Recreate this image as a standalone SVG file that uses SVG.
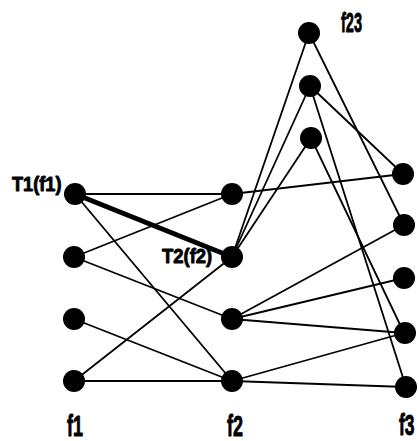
<svg xmlns="http://www.w3.org/2000/svg" width="419" height="441" viewBox="0 0 419 441">
  <style>
    .edge { stroke: #000; stroke-width: 1.8; fill: none; stroke-linecap: round; }
    .bold { stroke: #000; stroke-width: 5; fill: none; stroke-linecap: round; }
    .node { fill: #000; }
    .lbl { font-family: "Liberation Sans", Arial, sans-serif; font-weight: bold; fill: #000; stroke: #000; stroke-width: 0.9; stroke-linejoin: round; }
  </style>
  <rect width="419" height="441" fill="#fff"/>

  <!-- connectors -->
  <g id="edges">
    <line class="edge" x1="75" y1="194" x2="232" y2="194"/>
    <line class="bold" x1="75" y1="194" x2="232" y2="257"/>
    <line class="edge" x1="75" y1="194" x2="232" y2="381"/>
    <line class="edge" x1="74" y1="257" x2="232" y2="194"/>
    <line class="edge" x1="74" y1="257" x2="232" y2="319"/>
    <line class="edge" x1="74" y1="319" x2="232" y2="381"/>
    <line class="edge" x1="74" y1="381" x2="232" y2="257"/>
    <line class="edge" x1="74" y1="381" x2="232" y2="381"/>
    <line class="edge" x1="232" y1="194" x2="403" y2="174"/>
    <line class="edge" x1="232" y1="257" x2="309" y2="33"/>
    <line class="edge" x1="232" y1="257" x2="310" y2="86"/>
    <line class="edge" x1="232" y1="257" x2="311" y2="138"/>
    <line class="edge" x1="309" y1="33" x2="404" y2="225"/>
    <line class="edge" x1="310" y1="86" x2="403" y2="174"/>
    <line class="edge" x1="310" y1="86" x2="406" y2="387"/>
    <line class="edge" x1="311" y1="138" x2="404" y2="333"/>
    <line class="edge" x1="232" y1="319" x2="404" y2="225"/>
    <line class="edge" x1="232" y1="319" x2="404" y2="278"/>
    <line class="edge" x1="232" y1="319" x2="404" y2="333"/>
    <line class="edge" x1="232" y1="381" x2="404" y2="333"/>
    <line class="edge" x1="232" y1="381" x2="406" y2="387"/>
  </g>

  <!-- column f1 -->
  <g id="f1-1"><circle class="node" cx="75" cy="194" r="11"/></g>
  <g id="f1-2"><circle class="node" cx="74" cy="257" r="11"/></g>
  <g id="f1-3"><circle class="node" cx="74" cy="319" r="11"/></g>
  <g id="f1-4"><circle class="node" cx="74" cy="381" r="11"/></g>

  <!-- column f2 -->
  <g id="f2-1"><circle class="node" cx="232" cy="194" r="11"/></g>
  <g id="f2-2"><circle class="node" cx="232" cy="257" r="11"/></g>
  <g id="f2-3"><circle class="node" cx="232" cy="319" r="11"/></g>
  <g id="f2-4"><circle class="node" cx="232" cy="381" r="11"/></g>

  <!-- column f23 -->
  <g id="f23-1"><circle class="node" cx="309" cy="33" r="11"/></g>
  <g id="f23-2"><circle class="node" cx="310" cy="86" r="11"/></g>
  <g id="f23-3"><circle class="node" cx="311" cy="138" r="11"/></g>

  <!-- column f3 -->
  <g id="f3-1"><circle class="node" cx="403" cy="174" r="11"/></g>
  <g id="f3-2"><circle class="node" cx="404" cy="225" r="11"/></g>
  <g id="f3-3"><circle class="node" cx="404" cy="278" r="11"/></g>
  <g id="f3-4"><circle class="node" cx="405" cy="333" r="11"/></g>
  <g id="f3-5"><circle class="node" cx="406" cy="387" r="11"/></g>

  <!-- labels: condensed bold lettering -->
  <g id="labels">
    <text class="lbl" font-size="20" transform="translate(12,191) scale(0.91,1)">T1(f1)</text>
    <text class="lbl" font-size="21" transform="translate(162,263) scale(0.88,1)">T2(f2)</text>
    <text class="lbl" font-size="28" transform="translate(341,32) scale(0.52,1)">f23</text>
    <text class="lbl" font-size="30" transform="translate(67,436) scale(0.6,1)">f1</text>
    <text class="lbl" font-size="30" transform="translate(227,436) scale(0.6,1)">f2</text>
    <text class="lbl" font-size="29" transform="translate(399,435) scale(0.6,1)">f3</text>
  </g>
</svg>
